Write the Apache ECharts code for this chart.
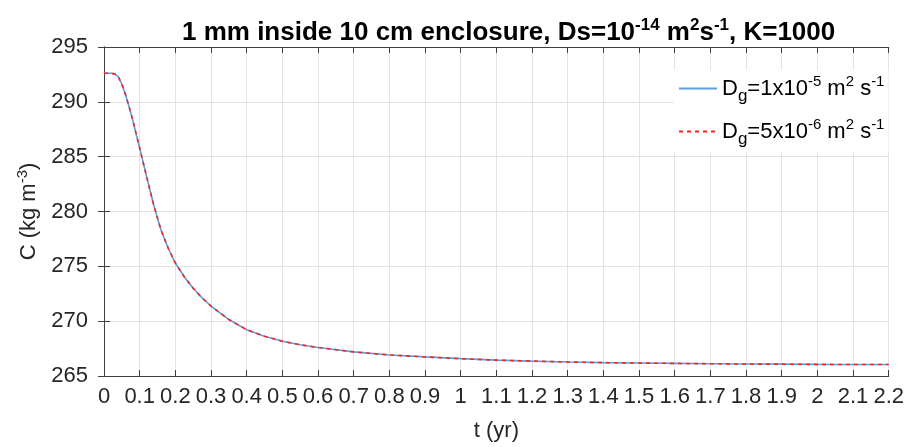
<!DOCTYPE html>
<html><head><meta charset="utf-8">
<script src="https://cdn.jsdelivr.net/npm/echarts@6/dist/echarts.min.js"></script>
<style>html,body{margin:0;padding:0;background:#fff}#c{width:907px;height:447px}</style>
</head><body><div id="c"></div><script>
// time in years
const tValues = [0, 0.01, 0.02, 0.03, 0.04, 0.05, 0.06, 0.07, 0.08, 0.09, 0.1, 0.12, 0.14, 0.16, 0.18, 0.2, 0.225, 0.25, 0.275, 0.3, 0.35, 0.4, 0.45, 0.5, 0.55, 0.6, 0.7, 0.8, 0.9, 1.0, 1.1, 1.2, 1.3, 1.4, 1.5, 1.6, 1.7, 1.8, 1.9, 2.0, 2.1, 2.2];
// concentration, Dg = 1e-5
const cDg1e5 = [292.6, 292.6, 292.6, 292.55, 292.3, 291.6, 290.7, 289.6, 288.4, 287.1, 285.8, 283.1, 280.5, 278.3, 276.65, 275.3, 274.05, 273.0, 272.12, 271.38, 270.15, 269.22, 268.62, 268.17, 267.85, 267.6, 267.2, 266.92, 266.74, 266.58, 266.45, 266.36, 266.28, 266.22, 266.18, 266.15, 266.12, 266.09, 266.08, 266.06, 266.05, 266.05];
// concentration, Dg = 5e-6
const cDg5e6 = [292.6, 292.6, 292.6, 292.55, 292.3, 291.6, 290.7, 289.6, 288.4, 287.1, 285.8, 283.1, 280.5, 278.3, 276.65, 275.3, 274.05, 273.0, 272.12, 271.38, 270.15, 269.22, 268.62, 268.17, 267.85, 267.6, 267.2, 266.92, 266.74, 266.58, 266.45, 266.36, 266.28, 266.22, 266.18, 266.15, 266.12, 266.09, 266.08, 266.06, 266.05, 266.05];
const yTicks = [265, 270, 275, 280, 285, 290, 295];
const xTickMin = 0, xTickMax = 2.2, xTickStep = 0.1;
const seriesNames = ['Dg=1e-5', 'Dg=5e-6'];
const legendTexts = ['{n|D}{sub|g}{n|=1x10}{sup|-5}{n| m}{sup|2}{n| s}{sup|-1}', '{n|D}{sub|g}{n|=5x10}{sup|-6}{n| m}{sup|2}{n| s}{sup|-1}'];

const FF = 'Liberation Sans, Arial, sans-serif';
const TXT = '#262626';
const chart = echarts.init(document.getElementById('c'), null, {renderer: 'canvas'});
const mk = arr => tValues.map((t, i) => [t, arr[i]]);
const axisLine = {show: true, lineStyle: {color: '#404040', width: 1}};
const tick = {show: true, inside: true, length: 6, lineStyle: {color: '#404040'}};
chart.setOption({
  animation: false,
  backgroundColor: '#fff',
  title: {
    text: '{b|1 mm inside 10 cm enclosure, Ds=10}{bs|-14}{b| m}{bs|2}{b|s}{bs|-1}{b|, K=1000}',
    left: 177, top: 12,
    textStyle: {
      rich: {
        b: {fontSize: 26, fontWeight: 'bold', fontFamily: FF, color: '#000'},
        bs: {fontSize: 17, fontWeight: 'bold', fontFamily: FF, color: '#000', padding: [0, 0, 14, 0]}
      }
    }
  },
  grid: {left: 104, right: 14, top: 47, bottom: 69, containLabel: false},
  legend: {
    orient: 'vertical', left: 674, top: 70,
    backgroundColor: '#fff', padding: [4, 4, 4, 4],
    itemWidth: 38, itemHeight: 14, itemGap: 12,
    data: seriesNames,
    itemStyle: {opacity: 0},
    formatter: name => legendTexts[seriesNames.indexOf(name)],
    textStyle: {
      rich: {
        n: {fontSize: 22, fontFamily: FF, color: '#000'},
        sub: {fontSize: 17, fontFamily: FF, color: '#000', padding: [16, 0, 0, 0]},
        sup: {fontSize: 15, fontFamily: FF, color: '#000', padding: [0, 0, 14, 0]}
      }
    }
  },
  xAxis: [{
    type: 'value', min: xTickMin, max: xTickMax, interval: xTickStep,
    name: 't (yr)', nameLocation: 'middle', nameGap: 44,
    nameTextStyle: {fontSize: 22, fontFamily: FF, color: TXT},
    axisLine, axisTick: tick,
    axisLabel: {fontSize: 22, fontFamily: FF, color: TXT, margin: 10,
      formatter: v => String(+v.toFixed(1))},
    splitLine: {show: true, lineStyle: {color: '#e3e3e3', width: 1}}
  }, {
    type: 'value', position: 'top', min: xTickMin, max: xTickMax, interval: xTickStep,
    axisLine, axisTick: tick, axisLabel: {show: false}, splitLine: {show: false}
  }],
  yAxis: [{
    type: 'value', min: yTicks[0], max: yTicks[yTicks.length - 1], interval: yTicks[1] - yTicks[0],
    name: '{n|C (kg m}{sup|-3}{n|)}', nameLocation: 'middle', nameGap: 62, nameRotate: 90,
    nameTextStyle: {rich: {
      n: {fontSize: 22, fontFamily: FF, color: TXT},
      sup: {fontSize: 15, fontFamily: FF, color: TXT, padding: [0, 0, 12, 0]}
    }},
    axisLine, axisTick: tick,
    axisLabel: {fontSize: 22, fontFamily: FF, color: TXT, margin: 16},
    splitLine: {show: true, lineStyle: {color: '#e3e3e3', width: 1}}
  }, {
    type: 'value', position: 'right', min: yTicks[0], max: yTicks[yTicks.length - 1], interval: yTicks[1] - yTicks[0],
    axisLine, axisTick: tick, axisLabel: {show: false}, splitLine: {show: false}
  }],
  series: [{
    name: seriesNames[0], type: 'line', data: mk(cDg1e5), symbol: 'none', smooth: false,
    lineStyle: {color: '#5b9fdc', width: 1.6}, itemStyle: {color: '#5b9fdc'}, z: 2
  }, {
    name: seriesNames[1], type: 'line', data: mk(cDg5e6), symbol: 'none', smooth: false,
    lineStyle: {color: '#ff2020', width: 1.6, type: [4, 4]}, itemStyle: {color: '#ff2020'}, z: 3
  }]
});
</script></body></html>
